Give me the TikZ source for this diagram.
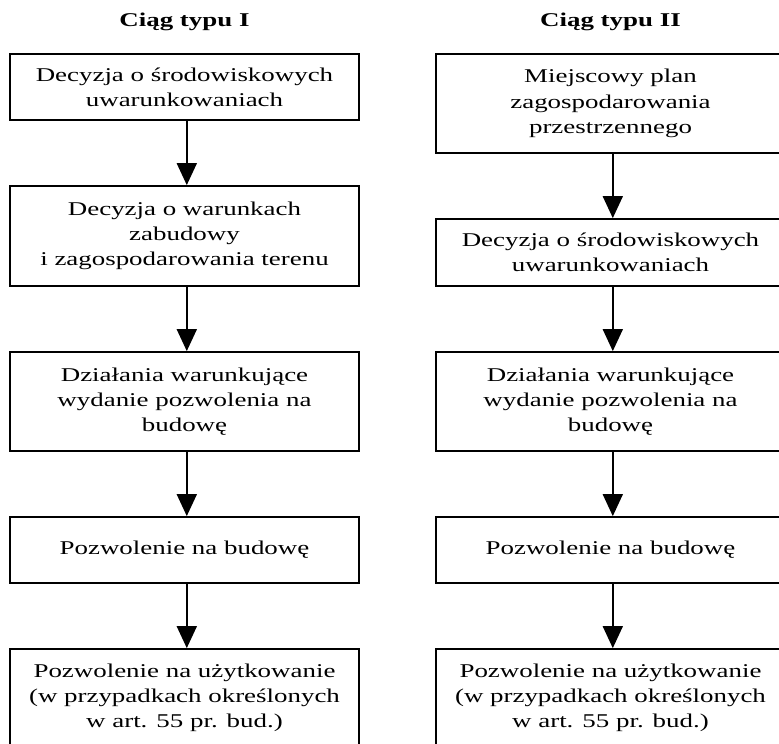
\documentclass[tikz,border=0pt]{standalone}
\usepackage{fontspec}
\setmainfont{Liberation Serif}[FakeStretch=1.38]
\usetikzlibrary{arrows.meta}
\tikzset{
  stepbox/.style={draw=black, line width=1.8pt, minimum width=349pt, inner sep=0pt,
    align=center, font=\fontsize{19.5}{25.3}\selectfont},
  titletxt/.style={inner sep=0pt, font=\fontsize{19.5}{24}\selectfont\bfseries},
  flow/.style={line width=1.8pt, -{Triangle[length=22pt,width=20pt]}}
}
\begin{document}
\begin{tikzpicture}[x=1pt,y=-1pt]
\useasboundingbox (0,0) rectangle (779,744);
\clip (0,0) rectangle (779,744);
\fill[white] (0,0) rectangle (779,744);
% titles
\node[titletxt] (t1) at (184.5,22) {Ciąg typu I};
\node[titletxt] (t2) at (610.5,22) {Ciąg typu II};
% left column
\node[stepbox, minimum height=66pt] (l1) at (184.5,87) {Decyzja o środowiskowych\\uwarunkowaniach};
\node[stepbox, minimum height=100pt] (l2) at (184.5,236) {Decyzja o warunkach\\zabudowy\\i zagospodarowania terenu};
\node[stepbox, minimum height=99pt] (l3) at (184.5,401.5) {Działania warunkujące\\wydanie pozwolenia na\\budowę};
\node[stepbox, minimum height=66pt] (l4) at (184.5,550) {Pozwolenie na budowę};
\node[stepbox, minimum height=98pt] (l5) at (184.5,698) {Pozwolenie na użytkowanie\\(w przypadkach określonych\\w art. 55 pr. bud.)};
% right column
\node[stepbox, minimum height=99pt] (r1) at (610.5,103.5) {Miejscowy plan\\zagospodarowania\\przestrzennego};
\node[stepbox, minimum height=67pt] (r2) at (610.5,252.5) {Decyzja o środowiskowych\\uwarunkowaniach};
\node[stepbox, minimum height=99pt] (r3) at (610.5,401.5) {Działania warunkujące\\wydanie pozwolenia na\\budowę};
\node[stepbox, minimum height=66pt] (r4) at (610.5,550) {Pozwolenie na budowę};
\node[stepbox, minimum height=98pt] (r5) at (610.5,698) {Pozwolenie na użytkowanie\\(w przypadkach określonych\\w art. 55 pr. bud.)};
% connectors
\foreach \a/\b in {l1/l2,l2/l3,l3/l4,l4/l5,r1/r2,r2/r3,r3/r4,r4/r5}{
  \draw[flow] ([xshift=2.3pt]\a.south) -- ([xshift=2.3pt]\b.north);
}
\end{tikzpicture}
\end{document}
